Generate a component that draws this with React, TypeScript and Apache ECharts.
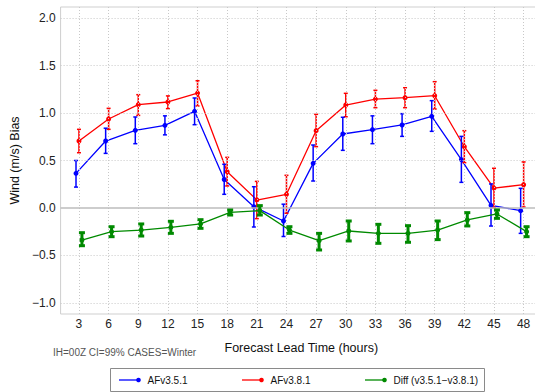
import React, { useEffect, useRef } from "react";
import * as echarts from "echarts";

// Forecast lead times (hours)
const hours = [3, 6, 9, 12, 15, 18, 21, 24, 27, 30, 33, 36, 39, 42, 45, 48];

// AFv3.5.1 mean wind bias with 99% confidence bounds
const v351 = [0.365, 0.705, 0.818, 0.87, 1.018, 0.3, 0.014, -0.137, 0.47, 0.779, 0.825, 0.874, 0.965, 0.51, 0.028, -0.028];
const v351Lo = [0.22, 0.575, 0.677, 0.77, 0.877, 0.144, -0.2, -0.3, 0.284, 0.607, 0.677, 0.754, 0.807, 0.27, -0.19, -0.267];
const v351Hi = [0.5, 0.84, 0.958, 0.97, 1.158, 0.46, 0.224, 0.04, 0.663, 0.955, 0.97, 0.993, 1.13, 0.754, 0.253, 0.207];

// AFv3.8.1 mean wind bias with 99% confidence bounds
const v381 = [0.705, 0.937, 1.088, 1.116, 1.21, 0.382, 0.084, 0.144, 0.814, 1.084, 1.147, 1.161, 1.182, 0.645, 0.21, 0.245];
const v381Lo = [0.582, 0.828, 0.975, 1.046, 1.074, 0.232, -0.112, -0.055, 0.646, 0.961, 1.056, 1.056, 1.042, 0.477, 0.003, 0.01];
const v381Hi = [0.828, 1.049, 1.193, 1.18, 1.34, 0.533, 0.28, 0.344, 0.986, 1.207, 1.239, 1.266, 1.33, 0.814, 0.418, 0.485];

// Paired difference (v3.5.1 - v3.8.1) with 99% confidence bounds
const diff = [-0.337, -0.249, -0.232, -0.204, -0.168, -0.046, -0.028, -0.232, -0.344, -0.242, -0.267, -0.267, -0.232, -0.126, -0.063, -0.249];
const diffLo = [-0.397, -0.302, -0.295, -0.267, -0.214, -0.074, -0.074, -0.267, -0.442, -0.347, -0.372, -0.361, -0.333, -0.189, -0.109, -0.302];
const diffHi = [-0.26, -0.197, -0.168, -0.14, -0.123, -0.021, 0.025, -0.197, -0.267, -0.137, -0.172, -0.186, -0.137, -0.049, -0.021, -0.197];

// Axis tick values
const yTicks = [-1, -0.5, 0, 0.5, 1, 1.5, 2];

const FONT = "Liberation Sans, Arial, Helvetica, sans-serif";
const BLUE = "#0000ff";
const RED = "#ff0000";
const GREEN = "#008a00";

// Horizontal dodge (hours) so overlapping error bars stay readable
const DODGE = 0.3;

function errorBarSeries(
  name: string,
  lo: number[],
  hi: number[],
  offset: number,
  color: string,
  width: number,
  capHalf: number
) {
  return {
    type: "custom",
    name,
    z: 4,
    data: hours.map((h, i) => [h + offset, lo[i], hi[i]]),
    encode: { x: 0, y: [1, 2] },
    renderItem: (params: any, api: any) => {
      const x = api.value(0);
      const top = api.coord([x, api.value(2)]);
      const bot = api.coord([x, api.value(1)]);
      const style = { stroke: color, lineWidth: width };
      return {
        type: "group",
        children: [
          { type: "line", shape: { x1: top[0], y1: top[1], x2: bot[0], y2: bot[1] }, style },
          { type: "line", shape: { x1: top[0] - capHalf, y1: top[1], x2: top[0] + capHalf, y2: top[1] }, style },
          { type: "line", shape: { x1: bot[0] - capHalf, y1: bot[1], x2: bot[0] + capHalf, y2: bot[1] }, style },
        ],
      };
    },
  };
}

function lineSeries(name: string, vals: number[], offset: number, color: string, z: number) {
  return {
    type: "line",
    name,
    z,
    data: hours.map((h, i) => [h + offset, vals[i]]),
    symbol: "circle",
    symbolSize: 5,
    showSymbol: true,
    itemStyle: { color },
    lineStyle: { color, width: 1.3 },
  };
}

function legendItem(x: number, label: string, color: string) {
  return [
    { type: "line", shape: { x1: x, y1: 380, x2: x + 20, y2: 380 }, style: { stroke: color, lineWidth: 1.3 } },
    { type: "circle", shape: { cx: x + 19.5, cy: 380, r: 2.3 }, style: { fill: color } },
    {
      type: "text",
      x: x + 28.5,
      y: 380,
      style: { text: label, fontSize: 10, fontFamily: FONT, fill: "#111", verticalAlign: "middle", align: "left" },
    },
  ];
}

export default function App() {
  const ref = useRef<HTMLDivElement>(null);

  useEffect(() => {
    if (!ref.current) return;
    const chart = echarts.init(ref.current, null, { renderer: "svg" });
    chart.setOption({
      animation: false,
      backgroundColor: "#ffffff",
      textStyle: { fontFamily: FONT },
      grid: {
        left: 52,
        top: 7,
        width: 490,
        height: 307,
        show: true,
        borderColor: "#cfcfcf",
        borderWidth: 1,
        backgroundColor: "transparent",
      },
      xAxis: {
        type: "value",
        min: 1.14,
        max: 49.86,
        name: "Forecast Lead Time (hours)",
        nameLocation: "middle",
        nameGap: 27,
        nameTextStyle: { fontSize: 12.5, color: "#111", fontFamily: FONT },
        axisLine: { show: false },
        axisTick: { show: false },
        splitLine: { show: false },
        axisLabel: {
          customValues: hours,
          fontSize: 12,
          color: "#222",
          margin: 4,
          fontFamily: FONT,
        },
      },
      yAxis: {
        type: "value",
        min: -1.116,
        max: 2.116,
        name: "Wind (m/s) Bias",
        nameLocation: "middle",
        nameGap: 25,
        nameTextStyle: { fontSize: 12.5, color: "#111", fontFamily: FONT },
        axisLine: { show: false },
        axisTick: { show: false },
        splitLine: { show: false },
        axisLabel: {
          customValues: yTicks,
          fontSize: 12,
          color: "#222",
          margin: 5,
          fontFamily: FONT,
          formatter: (v: number) => v.toFixed(1).replace("-", "\u2212"),
        },
      },
      series: [
        {
          // dotted reference grid
          type: "line",
          data: [],
          z: 1,
          silent: true,
          markLine: {
            silent: true,
            symbol: ["none", "none"],
            label: { show: false },
            lineStyle: { color: "#c8c8c8", type: [1, 2], width: 1 },
            data: [
              ...yTicks.filter((v) => v !== 0).map((v) => ({ yAxis: v })),
              ...hours.map((h) => ({ xAxis: h })),
            ],
          },
        },
        {
          // zero bias reference
          type: "line",
          data: [],
          z: 1,
          silent: true,
          markLine: {
            silent: true,
            symbol: ["none", "none"],
            label: { show: false },
            lineStyle: { color: "#bcbcbc", type: "solid", width: 1.6 },
            data: [{ yAxis: 0 }],
          },
        },
        errorBarSeries("AFv3.8.1 CI", v381Lo, v381Hi, 0, RED, 1.5, 2),
        lineSeries("AFv3.8.1", v381, 0, RED, 3),
        errorBarSeries("AFv3.5.1 CI", v351Lo, v351Hi, -DODGE, BLUE, 1.5, 2),
        lineSeries("AFv3.5.1", v351, -DODGE, BLUE, 3),
        lineSeries("Diff (v3.5.1\u2212v3.8.1)", diff, DODGE, GREEN, 5),
        { ...errorBarSeries("Diff CI", diffLo, diffHi, DODGE, GREEN, 3, 3), z: 6 },
      ],
      graphic: [
        {
          type: "text",
          x: 53,
          y: 352,
          style: {
            text: "IH=00Z CI=99% CASES=Winter",
            fontSize: 10,
            fontFamily: FONT,
            fill: "#555",
            verticalAlign: "middle",
          },
        },
        {
          type: "rect",
          shape: { x: 110.5, y: 368.5, width: 374, height: 23 },
          style: { fill: "#fff", stroke: "#8a8a8a", lineWidth: 1 },
        },
        ...legendItem(119, "AFv3.5.1", BLUE),
        ...legendItem(242, "AFv3.8.1", RED),
        ...legendItem(365, "Diff (v3.5.1\u2212v3.8.1)", GREEN),
      ],
    });
    return () => chart.dispose();
  }, []);

  return (
    <div
      style={{
        position: "fixed",
        left: 0,
        top: 0,
        width: 535,
        height: 392,
        overflow: "hidden",
        background: "#fff",
      }}
    >
      <div ref={ref} style={{ width: 560, height: 392 }} />
    </div>
  );
}
